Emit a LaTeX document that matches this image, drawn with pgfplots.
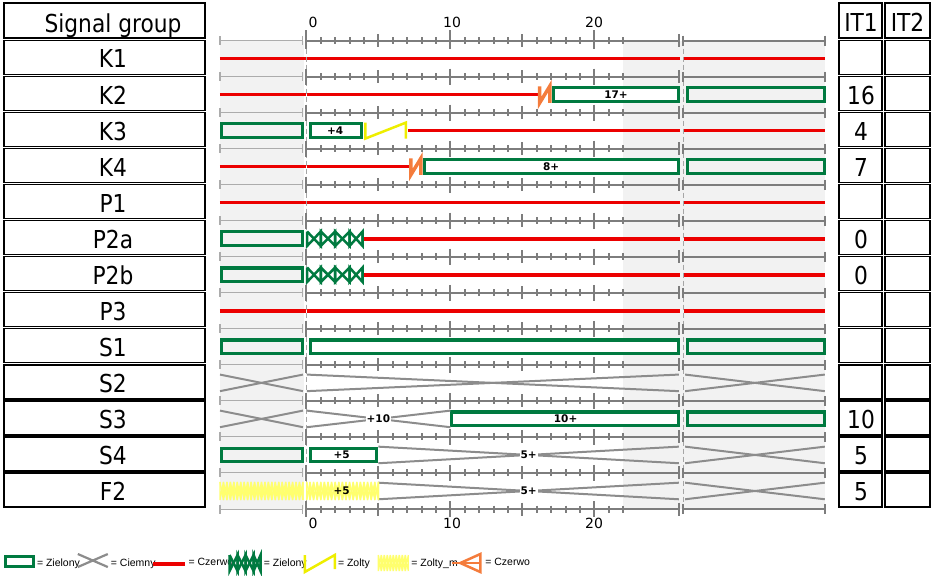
\documentclass[border=0pt]{standalone}
\usepackage{fontspec}
\setmainfont{DejaVu Sans}[FakeStretch=0.88]
\newfontfamily\tickfont{DejaVu Sans}
\newfontfamily\legfont{Liberation Sans}
\usepackage{pgfplots}
\pgfplotsset{compat=1.18}

\definecolor{zgreen}{RGB}{0,122,64}
\definecolor{sred}{RGB}{236,0,0}
\definecolor{bggray}{RGB}{242,242,242}
\definecolor{tickgray}{RGB}{125,125,125}
\definecolor{xgray}{RGB}{140,140,140}
\definecolor{syellow}{RGB}{238,238,0}
\definecolor{flyellow}{RGB}{255,255,110}
\definecolor{orng}{RGB}{244,124,60}

\newcommand\bigsize{\fontsize{24.7bp}{28bp}\selectfont}
\newcommand\lab{\tickfont\bfseries\fontsize{10.5bp}{12bp}\selectfont}

\tikzset{
  gbox/.style={draw=zgreen, line width=3.2bp, line join=miter},
  rline/.style={sred, line width=3.6bp},
  xl/.style={xgray, line width=2bp},
  legbox/.style={draw=none, fill=none},
}

\begin{document}
\begin{tikzpicture}
\useasboundingbox (-220bp,-67bp) rectangle (713bp,509bp);
\begin{axis}[
  scale only axis, width=604.8bp, height=468.5bp,
  xmin=-6, xmax=36, ymin=0.5, ymax=13.5, y dir=reverse,
  hide axis, clip=false,
  legend columns=7, legend cell align=left,
  legend style={at={(-0.3571,-0.1153)}, anchor=west, draw=none, fill=none,
    inner sep=0pt, outer sep=0pt, column sep=0pt, row sep=0pt,
    nodes={inner sep=0pt, outer sep=0pt},
    font=\legfont\fontsize{10.5bp}{12bp}\selectfont},
]
% legend samples
\addlegendimage{legend image code/.code={\path[legbox] (0bp,-10bp) rectangle (31bp,10bp);
  \draw[zgreen, line width=3.2bp, fill=none] (1.6bp,-3.5bp) rectangle (29.4bp,6.5bp);}}
\addlegendentry{\makebox[41.7bp][l]{\hspace{2bp}= Zielony}}
\addlegendimage{legend image code/.code={\path[legbox] (0bp,-10bp) rectangle (31bp,10bp);
  \draw[xgray, line width=2.2bp] (0bp,9bp)--(30bp,-4bp) (0bp,-4bp)--(30bp,9bp);}}
\addlegendentry{\makebox[41.7bp][l]{\hspace{2bp}= Ciemny}}
\addlegendimage{legend image code/.code={\path[legbox] (0bp,-10bp) rectangle (31bp,10bp);
  \draw[sred, line width=4bp] (0bp,-1bp)--(32bp,-1bp);}}
\addlegendentry{\makebox[41.7bp][l]{\hspace{2bp}= Czerwo}}
\addlegendimage{legend image code/.code={\path[legbox] (0bp,-10bp) rectangle (31bp,10bp);
  \draw[zgreen, line width=2.5bp] (0bp,8bp)--(8bp,-8bp)--(8bp,8bp)--(16bp,-8bp)--(16bp,8bp)--(24bp,-8bp)--(24bp,8bp)--(31bp,-8bp)--(31bp,8bp);
  \draw[zgreen, line width=2.5bp] (0bp,8bp)--(0bp,-8bp)--(8bp,8bp)--(8bp,-8bp)--(16bp,8bp)--(16bp,-8bp)--(24bp,8bp)--(24bp,-8bp)--(31bp,8bp)--(31bp,-8bp);}}
\addlegendentry{\makebox[41.7bp][l]{\hspace{2bp}= Zielony}}
\addlegendimage{legend image code/.code={\path[legbox] (0bp,-10bp) rectangle (31bp,10bp);
  \draw[syellow, line width=2.5bp] (0bp,8bp)--(0bp,-9bp)--(30bp,8bp)--(30bp,-6bp);}}
\addlegendentry{\makebox[41.7bp][l]{\hspace{2bp}= Zolty}}
\addlegendimage{legend image code/.code={\path[legbox] (0bp,-10bp) rectangle (31bp,10bp);
  \foreach \k in {0,3,...,27} {\draw[flyellow, line width=1.3bp] (\k bp,8bp)--(\k bp+3bp,-8bp) (\k bp,-8bp)--(\k bp+3bp,8bp) (\k bp,8bp)--(\k bp,-8bp);}
  \draw[flyellow, line width=1.3bp] (30bp,8bp)--(30bp,-8bp);}}
\addlegendentry{\makebox[41.7bp][l]{\hspace{2bp}= Zolty\_m}}
\addlegendimage{legend image code/.code={\path[legbox] (0bp,-10bp) rectangle (31bp,10bp);
  \draw[orng, line width=2.5bp] (0bp,0bp)--(29bp,0bp);
  \draw[orng, line width=2.5bp, fill=none] (28bp,9bp)--(8bp,0bp)--(28bp,-9bp)--cycle;}}
\addlegendentry{\makebox[41.7bp][l]{\hspace{2bp}= Czerwo}}

% backgrounds of the previous and next cycle
\addplot[draw=none, fill=bggray] coordinates {(-6,0.5)(-0.15,0.5)(-0.15,13.5)(-6,13.5)} -- cycle;
\addplot[draw=none, fill=bggray] coordinates {(22,0.5)(36,0.5)(36,13.5)(22,13.5)} -- cycle;

% time lines between the rows
\pgfplotsinvokeforeach{0.5,1.5,2.5,3.5,4.5,5.5,6.5,7.5,8.5,9.5,10.5,11.5,12.5,13.5}{
  \addplot[gray!65, line width=1bp] coordinates {(-6,#1)(-0.25,#1)};
  \addplot[only marks, mark=|, mark size=4.5bp, mark options={draw=gray!65, line width=1.2bp}] coordinates {(-6,#1)(-0.25,#1)};
  \addplot[tickgray, line width=2bp] coordinates {(0,#1)(25.87,#1)};
  \addplot[only marks, mark=|, mark size=3.5bp, mark options={draw=tickgray, line width=2bp}]
    coordinates {(1,#1)(2,#1)(3,#1)(4,#1)(6,#1)(7,#1)(8,#1)(9,#1)(11,#1)(12,#1)(13,#1)(14,#1)(16,#1)(17,#1)(18,#1)(19,#1)(21,#1)(22,#1)};
  \addplot[only marks, mark=|, mark size=6.5bp, mark options={draw=tickgray, line width=2bp}] coordinates {(5,#1)(15,#1)(25.87,#1)};
  \addplot[only marks, mark=|, mark size=8bp, mark options={draw=tickgray, line width=2bp}] coordinates {(0,#1)(10,#1)(20,#1)};
  \addplot[tickgray, line width=2bp] coordinates {(26.17,#1)(36,#1)};
  \addplot[only marks, mark=|, mark size=5bp, mark options={draw=tickgray, line width=2bp}] coordinates {(26.17,#1)(36,#1)};
}
\addplot[tickgray, line width=2bp] coordinates {(0,0.21)(0,0.5)};
\addplot[tickgray, line width=2bp] coordinates {(10,0.21)(10,0.5)};
\addplot[tickgray, line width=2bp] coordinates {(20,0.21)(20,0.5)};
\addplot[tickgray, line width=2bp] coordinates {(0,13.5)(0,13.73)};
\addplot[tickgray, line width=2bp] coordinates {(10,13.5)(10,13.73)};
\addplot[tickgray, line width=2bp] coordinates {(20,13.5)(20,13.73)};
\addplot[gray!70, line width=1.2bp, dash pattern=on 5bp off 3bp] coordinates {(0,0.5)(0,13.5)};
\addplot[gray!70, line width=1.2bp, dash pattern=on 5bp off 3bp] coordinates {(26.17,0.5)(26.17,13.5)};

% red
\addplot[rline] coordinates {(-6,1)(-0.06,1)};
\addplot[rline] coordinates {(0.06,1)(25.95,1)};
\addplot[rline] coordinates {(26.22,1)(36,1)};
\addplot[rline] coordinates {(-6,2)(-0.06,2)};
\addplot[rline] coordinates {(0.06,2)(16.1,2)};
\addplot[rline] coordinates {(7.05,3)(25.95,3)};
\addplot[rline] coordinates {(26.22,3)(36,3)};
\addplot[rline] coordinates {(-6,4)(-0.06,4)};
\addplot[rline] coordinates {(0.06,4)(7.15,4)};
\addplot[rline] coordinates {(-6,5)(-0.06,5)};
\addplot[rline] coordinates {(0.06,5)(25.95,5)};
\addplot[rline] coordinates {(26.22,5)(36,5)};
\addplot[rline] coordinates {(3.95,6)(25.95,6)};
\addplot[rline] coordinates {(26.22,6)(36,6)};
\addplot[rline] coordinates {(3.95,7)(25.95,7)};
\addplot[rline] coordinates {(26.22,7)(36,7)};
\addplot[rline] coordinates {(-6,8)(-0.06,8)};
\addplot[rline] coordinates {(0.06,8)(25.95,8)};
\addplot[rline] coordinates {(26.22,8)(36,8)};

% green
\addplot[gbox, fill=white] coordinates {(17.17,1.81)(25.84,1.81)(25.84,2.19)(17.17,2.19)} -- cycle;
\addplot[gbox] coordinates {(26.46,1.81)(35.98,1.81)(35.98,2.19)(26.46,2.19)} -- cycle;
\addplot[gbox] coordinates {(-5.87,2.81)(-0.27,2.81)(-0.27,3.19)(-5.87,3.19)} -- cycle;
\addplot[gbox] coordinates {(0.28,2.81)(3.82,2.81)(3.82,3.19)(0.28,3.19)} -- cycle;
\addplot[gbox, fill=white] coordinates {(8.2,3.81)(25.84,3.81)(25.84,4.19)(8.2,4.19)} -- cycle;
\addplot[gbox] coordinates {(26.46,3.81)(35.98,3.81)(35.98,4.19)(26.46,4.19)} -- cycle;
\addplot[gbox] coordinates {(-5.87,5.81)(-0.27,5.81)(-0.27,6.19)(-5.87,6.19)} -- cycle;
\addplot[gbox] coordinates {(-5.87,6.81)(-0.27,6.81)(-0.27,7.19)(-5.87,7.19)} -- cycle;
\addplot[gbox] coordinates {(-5.87,8.81)(-0.27,8.81)(-0.27,9.19)(-5.87,9.19)} -- cycle;
\addplot[gbox, fill=white] coordinates {(0.28,8.81)(25.84,8.81)(25.84,9.19)(0.28,9.19)} -- cycle;
\addplot[gbox] coordinates {(26.46,8.81)(35.98,8.81)(35.98,9.19)(26.46,9.19)} -- cycle;
\addplot[gbox, fill=white] coordinates {(10.1,10.81)(25.84,10.81)(25.84,11.19)(10.1,11.19)} -- cycle;
\addplot[gbox] coordinates {(26.46,10.81)(35.98,10.81)(35.98,11.19)(26.46,11.19)} -- cycle;
\addplot[gbox] coordinates {(-5.87,11.81)(-0.27,11.81)(-0.27,12.19)(-5.87,12.19)} -- cycle;
\addplot[gbox] coordinates {(0.28,11.81)(4.86,11.81)(4.86,12.19)(0.28,12.19)} -- cycle;

% green flashing
\addplot[zgreen, line width=2.5bp] coordinates {(0.05,5.8)(1,6.2)(1,5.8)(2,6.2)(2,5.8)(3,6.2)(3,5.8)(3.9,6.2)(3.9,5.8)};
\addplot[zgreen, line width=2.5bp] coordinates {(0.05,5.8)(0.05,6.2)(1,5.8)(1,6.2)(2,5.8)(2,6.2)(3,5.8)(3,6.2)(3.9,5.8)(3.9,6.2)};
\addplot[zgreen, line width=2.5bp] coordinates {(0.05,6.8)(1,7.2)(1,6.8)(2,7.2)(2,6.8)(3,7.2)(3,6.8)(3.9,7.2)(3.9,6.8)};
\addplot[zgreen, line width=2.5bp] coordinates {(0.05,6.8)(0.05,7.2)(1,6.8)(1,7.2)(2,6.8)(2,7.2)(3,6.8)(3,7.2)(3.9,6.8)(3.9,7.2)};

% yellow and red-yellow
\addplot[syellow, line width=2.5bp] coordinates {(4.1,2.78)(4.1,3.22)(6.9,2.78)(6.9,3.22)};
\addplot[orng, line width=3.5bp] coordinates {(16.2,1.77)(16.2,2.23)(16.9,1.77)(16.9,2.23)};
\addplot[orng, line width=3.5bp] coordinates {(7.25,3.77)(7.25,4.23)(7.95,3.77)(7.95,4.23)};

% dark
\addplot[xl] coordinates {(-6,9.77)(-0.24,10.23)};
\addplot[xl] coordinates {(-6,10.23)(-0.24,9.77)};
\addplot[xl] coordinates {(0.03,9.77)(25.87,10.23)};
\addplot[xl] coordinates {(0.03,10.23)(25.87,9.77)};
\addplot[xl] coordinates {(26.3,9.77)(36,10.23)};
\addplot[xl] coordinates {(26.3,10.23)(36,9.77)};
\addplot[xl] coordinates {(-6,10.77)(-0.24,11.23)};
\addplot[xl] coordinates {(-6,11.23)(-0.24,10.77)};
\addplot[xl] coordinates {(0.03,10.77)(10,11.23)};
\addplot[xl] coordinates {(0.03,11.23)(10,10.77)};
\addplot[xl] coordinates {(5,11.77)(25.87,12.23)};
\addplot[xl] coordinates {(5,12.23)(25.87,11.77)};
\addplot[xl] coordinates {(26.3,11.77)(36,12.23)};
\addplot[xl] coordinates {(26.3,12.23)(36,11.77)};
\addplot[xl] coordinates {(5,12.77)(25.87,13.23)};
\addplot[xl] coordinates {(5,13.23)(25.87,12.77)};
\addplot[xl] coordinates {(26.3,12.77)(36,13.23)};
\addplot[xl] coordinates {(26.3,13.23)(36,12.77)};

% yellow flashing
\addplot[flyellow, line width=1.3bp] coordinates {(-6,12.75)(-5.76,13.25)(-5.76,12.75)(-5.52,13.25)(-5.52,12.75)(-5.28,13.25)(-5.28,12.75)(-5.04,13.25)(-5.04,12.75)(-4.8,13.25)(-4.8,12.75)(-4.56,13.25)(-4.56,12.75)(-4.32,13.25)(-4.32,12.75)(-4.08,13.25)(-4.08,12.75)(-3.84,13.25)(-3.84,12.75)(-3.6,13.25)(-3.6,12.75)(-3.36,13.25)(-3.36,12.75)(-3.12,13.25)(-3.12,12.75)(-2.88,13.25)(-2.88,12.75)(-2.64,13.25)(-2.64,12.75)(-2.4,13.25)(-2.4,12.75)(-2.16,13.25)(-2.16,12.75)(-1.92,13.25)(-1.92,12.75)(-1.68,13.25)(-1.68,12.75)(-1.44,13.25)(-1.44,12.75)(-1.2,13.25)(-1.2,12.75)(-0.96,13.25)(-0.96,12.75)(-0.72,13.25)(-0.72,12.75)(-0.48,13.25)(-0.48,12.75)(-0.24,13.25)(-0.24,12.75)};
\addplot[flyellow, line width=1.3bp] coordinates {(-6,12.75)(-6,13.25)(-5.76,12.75)(-5.76,13.25)(-5.52,12.75)(-5.52,13.25)(-5.28,12.75)(-5.28,13.25)(-5.04,12.75)(-5.04,13.25)(-4.8,12.75)(-4.8,13.25)(-4.56,12.75)(-4.56,13.25)(-4.32,12.75)(-4.32,13.25)(-4.08,12.75)(-4.08,13.25)(-3.84,12.75)(-3.84,13.25)(-3.6,12.75)(-3.6,13.25)(-3.36,12.75)(-3.36,13.25)(-3.12,12.75)(-3.12,13.25)(-2.88,12.75)(-2.88,13.25)(-2.64,12.75)(-2.64,13.25)(-2.4,12.75)(-2.4,13.25)(-2.16,12.75)(-2.16,13.25)(-1.92,12.75)(-1.92,13.25)(-1.68,12.75)(-1.68,13.25)(-1.44,12.75)(-1.44,13.25)(-1.2,12.75)(-1.2,13.25)(-0.96,12.75)(-0.96,13.25)(-0.72,12.75)(-0.72,13.25)(-0.48,12.75)(-0.48,13.25)(-0.24,12.75)(-0.24,13.25)};
\addplot[flyellow, line width=1.3bp] coordinates {(0.03,12.75)(0.25,13.25)(0.25,12.75)(0.5,13.25)(0.5,12.75)(0.75,13.25)(0.75,12.75)(1,13.25)(1,12.75)(1.25,13.25)(1.25,12.75)(1.5,13.25)(1.5,12.75)(1.75,13.25)(1.75,12.75)(2,13.25)(2,12.75)(2.25,13.25)(2.25,12.75)(2.5,13.25)(2.5,12.75)(2.75,13.25)(2.75,12.75)(3,13.25)(3,12.75)(3.25,13.25)(3.25,12.75)(3.5,13.25)(3.5,12.75)(3.75,13.25)(3.75,12.75)(4,13.25)(4,12.75)(4.25,13.25)(4.25,12.75)(4.5,13.25)(4.5,12.75)(4.75,13.25)(4.75,12.75)(5,13.25)(5,12.75)};
\addplot[flyellow, line width=1.3bp] coordinates {(0.03,12.75)(0.03,13.25)(0.25,12.75)(0.25,13.25)(0.5,12.75)(0.5,13.25)(0.75,12.75)(0.75,13.25)(1,12.75)(1,13.25)(1.25,12.75)(1.25,13.25)(1.5,12.75)(1.5,13.25)(1.75,12.75)(1.75,13.25)(2,12.75)(2,13.25)(2.25,12.75)(2.25,13.25)(2.5,12.75)(2.5,13.25)(2.75,12.75)(2.75,13.25)(3,12.75)(3,13.25)(3.25,12.75)(3.25,13.25)(3.5,12.75)(3.5,13.25)(3.75,12.75)(3.75,13.25)(4,12.75)(4,13.25)(4.25,12.75)(4.25,13.25)(4.5,12.75)(4.5,13.25)(4.75,12.75)(4.75,13.25)(5,12.75)(5,13.25)};

% durations
\node[font=\lab, inner sep=0pt] at (axis cs:21.5,2) {17+};
\node[font=\lab, inner sep=0pt] at (axis cs:2,3) {+4};
\node[font=\lab, inner sep=0pt] at (axis cs:17,4) {8+};
\node[font=\lab, inner sep=1bp, fill=white] at (axis cs:5,11) {+10};
\node[font=\lab, inner sep=0pt] at (axis cs:18,11) {10+};
\node[font=\lab, inner sep=0pt] at (axis cs:2.45,12) {+5};
\node[font=\lab, inner sep=1bp, fill=white] at (axis cs:15.44,12) {5+};
\node[font=\lab, inner sep=0pt] at (axis cs:2.45,13) {+5};
\node[font=\lab, inner sep=1bp, fill=white] at (axis cs:15.44,13) {5+};
\end{axis}

% time labels
\foreach \t/\xx in {0/93,10/232,20/374} {
  \node[anchor=base, inner sep=0pt, font=\tickfont\fontsize{14bp}{16bp}\selectfont] at (\xx bp,481bp) {\t};
  \node[anchor=base, inner sep=0pt, font=\tickfont\fontsize{14bp}{16bp}\selectfont] at (\xx bp,-19bp) {\t};
}

% signal group table and intergreen columns
\draw[line width=1.3bp] (-216bp,471bp) rectangle (-15bp,506bp);
\draw[line width=1.3bp] (619bp,471bp) rectangle (662bp,506bp);
\draw[line width=1.3bp] (665bp,471bp) rectangle (710bp,506bp);
\node[anchor=base, inner sep=0pt] at (-107bp,476bp) {\bigsize Signal group};
\node[anchor=base, inner sep=0pt] at (641bp,477bp) {\bigsize IT1};
\node[anchor=base, inner sep=0pt] at (687.5bp,477bp) {\bigsize IT2};
\foreach \n/\v [count=\i] in {K1/{},K2/16,K3/4,K4/7,P1/{},P2a/0,P2b/0,P3/{},S1/{},S2/{},S3/10,S4/5,F2/5}{
  \pgfmathsetmacro\yc{450.5-36.04*(\i-1)}
  \pgfmathsetmacro\yt{\yc+18}
  \pgfmathsetmacro\yb{\yc-16}
  \pgfmathsetmacro\yl{\yc-9.5}
  \draw[line width=1.3bp] (-216bp,\yb bp) rectangle (-15bp,\yt bp);
  \draw[line width=1.3bp] (619bp,\yb bp) rectangle (662bp,\yt bp);
  \draw[line width=1.3bp] (665bp,\yb bp) rectangle (710bp,\yt bp);
  \node[anchor=base, inner sep=0pt] at (-107bp,\yl bp) {\bigsize\n};
  \node[anchor=base, inner sep=0pt] at (641bp,\yl bp) {\bigsize\v};
}
\end{tikzpicture}
\end{document}
